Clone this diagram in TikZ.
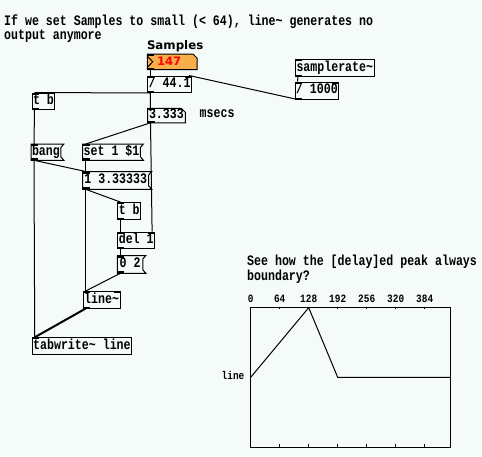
\documentclass[tikz,border=0pt]{standalone}
\usepackage{fontspec}
\usetikzlibrary{backgrounds}
\newfontfamily\pdfont[FakeStretch=0.8]{Liberation Mono}
\newfontfamily\pdsmall[FakeStretch=0.84]{Liberation Mono}
\newfontfamily\lblfont{DejaVu Sans}
\definecolor{bgcol}{RGB}{244,251,248}
\definecolor{atomorange}{RGB}{248,174,74}
\newcommand\pdmsgshape[1]{\draw[outline] (#1.north west) -- ([xshift=3pt]#1.north east) -- ([yshift=-3.5pt]#1.north east) -- ([yshift=3.5pt]#1.south east) -- ([xshift=3pt]#1.south east) -- (#1.south west) -- cycle;}
\newcommand\pdatomshape[1]{\draw[outline] (#1.north west) -- ([xshift=-4pt]#1.north east) -- ([yshift=-4pt]#1.north east) -- (#1.south east) -- (#1.south west) -- cycle;}
\newcommand\pdinl[1]{\fill (#1.north west) rectangle ([xshift=7pt,yshift=-2pt]#1.north west);}
\newcommand\pdinr[1]{\fill (#1.north east) rectangle ([xshift=-7pt,yshift=-2pt]#1.north east);}
\newcommand\pdoutl[1]{\fill (#1.south west) rectangle ([xshift=7pt,yshift=2pt]#1.south west);}
\begin{document}
\begin{tikzpicture}[x=1pt,y=-1pt,
  pdf/.style={font={\pdfont\bfseries\fontsize{14.5pt}{12pt}\selectfont}},
  box/.style={pdf, draw=black, line width=1pt, anchor=north west, inner xsep=1pt, inner ysep=0pt, text height=8.5pt, text depth=2pt, minimum height=16.5pt},
  msgbox/.style={box, draw=none, inner xsep=0.5pt},
  atombox/.style={box, draw=none, minimum height=13.5pt},
  outline/.style={draw=black, line width=1pt},
  conn/.style={draw=black, line width=1pt},
  sig/.style={draw=black, line width=2pt},
  comment/.style={pdf, anchor=base west, inner sep=0pt, align=left},
  ticklabel/.style={font={\pdsmall\bfseries\fontsize{11.2pt}{12pt}\selectfont}, inner sep=0pt},
]
\begin{scope}[on background layer]
\fill[bgcol] (0,0) rectangle (482,456);
\end{scope}
\useasboundingbox (0,0) rectangle (482,456);

% comments (anchor = baseline of the last line)
\node[comment] (title) at (4,39.5) {If we set Samples to small (< 64), line\textasciitilde{} generates no\\output anymore};
\node[anchor=base west, inner sep=0pt, font={\lblfont\bfseries\fontsize{11.8pt}{14pt}\selectfont}] (samples) at (146.8,49.5) {Samples};
\node[comment] (msecs) at (199.5,117.5) {msecs};
\node[comment] (see) at (247,280.5) {See how the [delay]ed peak always\\[0.5pt]boundary?};

% number box 147
\node[atombox, text width=48.7pt, inner xsep=0pt, align=left, font={\lblfont\bfseries\fontsize{11.6pt}{14pt}\selectfont}, text=red, text height=9pt, text depth=1pt, minimum height=14.5pt] (n147) at (147.3,54) {\hspace*{9.3pt}147};
\begin{scope}[on background layer]
\fill[atomorange] (n147.north west) -- ([xshift=-4pt]n147.north east) -- ([yshift=-4pt]n147.north east) -- (n147.south east) -- (n147.south west) -- cycle;
\end{scope}
\pdatomshape{n147}
\draw[outline] ([yshift=-2pt]n147.north west) -- ([xshift=5.4pt]n147.west) -- ([yshift=2pt]n147.south west);

% objects
\node[box] (div441) at (147.3,75.5) {/ 44.1};
\node[box] (srate) at (295,59) {samplerate\textasciitilde};
\node[box, minimum height=17pt] (div1000) at (294.5,81.5) {/ 1000};
\node[box] (tb1) at (31.5,92.5) {t b};
\node[atombox] (n3333) at (147.5,108.3) {3.333};
\pdatomshape{n3333}
\node[msgbox, minimum height=15.3pt] (bang) at (31,144) {bang};
\pdmsgshape{bang}
\node[msgbox, minimum height=15.3pt] (setm) at (82.7,144) {set 1 \$1};
\pdmsgshape{setm}
\node[msgbox, minimum height=16.8pt, minimum width=65pt] (m13) at (82.7,171.5) {1 3.33333};
\pdmsgshape{m13}
\node[box, minimum height=17.3pt] (tb2) at (117.3,202) {t b};
\node[box, minimum height=16pt] (del1) at (117.3,231.7) {del 1};
\node[msgbox, minimum height=16.8pt, minimum width=24.5pt] (m02) at (117.3,255.5) {0 2};
\pdmsgshape{m02}
\node[box] (linet) at (82.7,291) {line\textasciitilde};
\node[box] (tabw) at (31.7,337.3) {tabwrite\textasciitilde{} line};

% inlets / outlets
\foreach \n in {n147,div441,srate,div1000,tb1,n3333,bang,setm,m13,tb2,del1,m02,linet,tabw} {\pdinl{\n}}
\foreach \n in {n147,div441,srate,div1000,tb1,n3333,bang,setm,m13,tb2,del1,m02,linet} {\pdoutl{\n}}
\foreach \n in {div441,div1000,del1,linet} {\pdinr{\n}}

% connections
\draw[conn] ([xshift=3pt]n147.south west) -- ([xshift=3pt]div441.north west);
\draw[conn] ([xshift=3pt]srate.south west) -- ([xshift=3pt]div1000.north west);
\draw[conn] ([xshift=3pt]div1000.south west) -- ([xshift=-3pt]div441.north east);
\draw[conn] ([xshift=3pt]div441.south west) -- ([xshift=3pt]tb1.north west);
\draw[conn] ([xshift=3pt]div441.south west) -- ([xshift=3pt]n3333.north west);
\draw[conn] ([xshift=3pt]n3333.south west) -- ([xshift=3pt]setm.north west);
\draw[conn] ([xshift=3pt]n3333.south west) -- ([xshift=-3pt]del1.north east);
\draw[conn] ([xshift=3pt]tb1.south west) -- ([xshift=3pt]bang.north west);
\draw[conn] ([xshift=3pt]bang.south west) -- ([xshift=3pt]tabw.north west);
\draw[conn] ([xshift=3pt]bang.south west) -- ([xshift=3pt]m13.north west);
\draw[conn] ([xshift=3pt]setm.south west) -- ([xshift=3pt]m13.north west);
\draw[conn] ([xshift=3pt]m13.south west) -- ([xshift=3pt]linet.north west);
\draw[conn] ([xshift=3pt]m13.south west) -- ([xshift=3pt]tb2.north west);
\draw[conn] ([xshift=3pt]tb2.south west) -- ([xshift=3pt]del1.north west);
\draw[conn] ([xshift=3pt]del1.south west) -- ([xshift=3pt]m02.north west);
\draw[conn] ([xshift=3pt]m02.south west) -- ([xshift=3pt]linet.north west);
\draw[sig] ([xshift=3pt]linet.south west) -- ([xshift=3pt]tabw.north west);

% graph
\draw[line width=1pt] (250.7,307.7) rectangle (450.7,447);
\foreach \k in {1,...,6} {
  \draw[line width=1pt] (250.7+29*\k,447) -- (250.7+29*\k,444);
  \draw[line width=1pt] (250.7+29*\k,307.7) -- (250.7+29*\k,309.2);
}
\foreach \k/\l in {0/0,1/64,2/128,3/192,4/256,5/320,6/384} {
  \node[ticklabel, anchor=base] at (250.7+29*\k,302.3) {\l};
}
\node[ticklabel, anchor=base east] (linelbl) at (244.5,379.5) {line};
\draw[line width=1pt] (250.7,377.3) -- (308.7,307.7) -- (337.7,377.3) -- (450.7,377.3);
\end{tikzpicture}
\end{document}
